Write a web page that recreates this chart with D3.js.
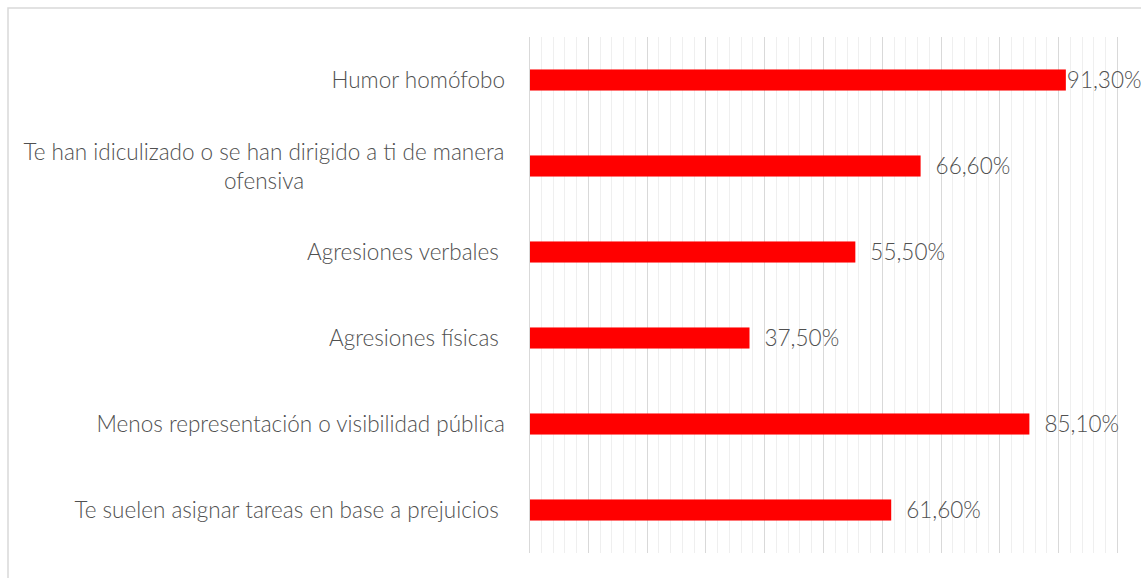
<!DOCTYPE html>
<html>
<head>
<meta charset="utf-8">
<script src="https://cdn.jsdelivr.net/npm/d3@7"></script>
<style>
  body { margin: 0; background: #fff; }
  svg text { font-family: "Lato", "Open Sans", sans-serif; font-weight: 300; fill: #505050; white-space: pre; }
</style>
</head>
<body>
<div id="chart"></div>
<script>
// categories, top to bottom
var categories = [
    "Humor homófobo",
    "Te han idiculizado o se han dirigido a ti de manera ofensiva",
    "Agresiones verbales ",
    "Agresiones físicas ",
    "Menos representación o visibilidad pública",
    "Te suelen asignar tareas en base a prejuicios "
];
var values = [91.3, 66.6, 55.5, 37.5, 85.1, 61.6];
var valueLabels = ["91,30%", "66,60%", "55,50%", "37,50%", "85,10%", "61,60%"];
// label lines (long category wraps in two)
var labelLines = [
    ["Humor homófobo"],
    ["Te han idiculizado o se han dirigido a ti de manera", "ofensiva"],
    ["Agresiones verbales "],
    ["Agresiones físicas "],
    ["Menos representación o visibilidad pública"],
    ["Te suelen asignar tareas en base a prejuicios "]
];

var outerWidth = 1141, outerHeight = 578;
var margin = {top: 37, right: 24, bottom: 25, left: 529};
var fontSize = "22.5px";

var svg = d3.select("#chart").append("svg")
    .attr("width", outerWidth)
    .attr("height", outerHeight);

// chart border
svg.append("rect")
    .attr("x", 8).attr("y", 8)
    .attr("width", outerWidth)
    .attr("height", outerHeight)
    .style("fill", "none")
    .style("stroke", "#d9d9d9")
    .style("stroke-width", 1.5);

var g = svg.append("g")
    .attr("transform", "translate(" + margin.left + "," + margin.top + ")");

var x = d3.scaleLinear().domain([0, 100]).range([0, 588]);
var y = d3.scaleBand().domain(categories).range([0, 516]).paddingInner(0.755).paddingOuter(0.3775);

// minor gridlines every 2%
g.append("g").selectAll("line")
    .data(d3.range(0, 101, 2).filter(function(d){ return d % 10 !== 0; }))
    .enter().append("line")
    .attr("x1", function(d){ return Math.round(x(d)) + 0.5; })
    .attr("x2", function(d){ return Math.round(x(d)) + 0.5; })
    .attr("y1", 0).attr("y2", 516)
    .style("stroke", "#efefef")
    .style("stroke-width", 1);

// major gridlines every 10%
g.append("g").selectAll("line")
    .data(d3.range(0, 101, 10))
    .enter().append("line")
    .attr("x1", function(d){ return Math.round(x(d)) + 0.5; })
    .attr("x2", function(d){ return Math.round(x(d)) + 0.5; })
    .attr("y1", 0).attr("y2", 516)
    .style("stroke", "#d9d9d9")
    .style("stroke-width", 1);

// bars
g.selectAll(".bar")
    .data(values)
    .enter().append("rect")
    .attr("class", "bar")
    .attr("x", x(0) + 1)
    .attr("y", function(d, i){ return y(categories[i]); })
    .attr("width", function(d){ return x(d) - 1; })
    .attr("height", y.bandwidth())
    .style("fill", "#ff0000");

// value labels: outside end, pulled in when they would not fit
var avail = outerWidth - margin.left;
g.selectAll(".val")
    .data(values)
    .enter().append("text")
    .attr("class", "val")
    .attr("y", function(d, i){ return y(categories[i]) + y.bandwidth() / 2; })
    .attr("dy", "0.35em")
    .style("font-size", fontSize)
    .text(function(d, i){ return valueLabels[i]; })
    .attr("x", function(d){
        var w = this.getComputedTextLength();
        return (x(d) + 15 + w > avail) ? x(d) + 1 : x(d) + 15;
    });

// category labels
var labels = svg.append("g").selectAll("text")
    .data(labelLines)
    .enter().append("text")
    .attr("y", function(d, i){ return margin.top + y(categories[i]) + y.bandwidth() / 2; })
    .style("font-size", fontSize);

labels.each(function(lines){
    var t = d3.select(this);
    if (lines.length === 1) {
        t.attr("text-anchor", "end")
         .append("tspan").attr("x", 505).attr("dy", "0.35em").text(lines[0]);
    } else {
        t.attr("text-anchor", "middle");
        lines.forEach(function(l, k){
            t.append("tspan").attr("x", 264)
             .attr("dy", k === 0 ? "-0.25em" : "1.25em")
             .text(l);
        });
    }
});
</script>
</body>
</html>
